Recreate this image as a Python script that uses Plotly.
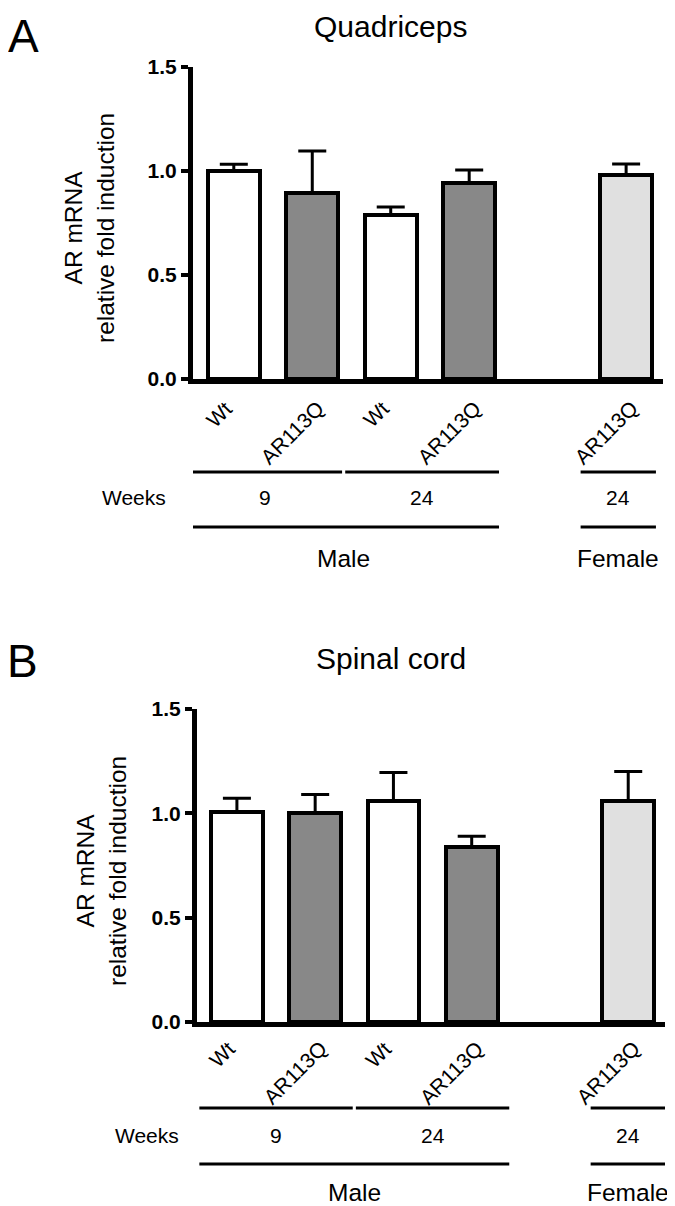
import plotly.graph_objects as go

# ---------------- data ----------------
genotypes = ["Wt", "AR113Q", "Wt", "AR113Q", "AR113Q"]
bar_pos = [0, 1, 2, 3, 5]
bar_colors = ["#ffffff", "#888888", "#ffffff", "#888888", "#e0e0e0"]

quad_mean = [1.00, 0.894, 0.788, 0.942, 0.981]
quad_sem = [0.032, 0.202, 0.039, 0.063, 0.053]

spinal_mean = [1.005, 1.0, 1.06, 0.837, 1.06]
spinal_sem = [0.067, 0.09, 0.136, 0.053, 0.14]

# groups refer to bar indices
week_groups = [("9", [0, 1]), ("24", [2, 3]), ("24", [4])]
sex_groups = [("Male", [0, 1, 2, 3]), ("Female", [4])]

panel_titles = ["Quadriceps", "Spinal cord"]
panel_letters = ["A", "B"]
y_ticks = [0.0, 0.5, 1.0, 1.5]

# ---------------- layout helpers ----------------
WIN_W, WIN_H = 675, 1206
OFF = 8                      # default page margin of the html body
W, H = WIN_W - OFF, WIN_H - OFF
FONT = "Liberation Sans, Arial, Helvetica, sans-serif"


def X(px):
    """window pixel -> paper x"""
    return (px - OFF) / W


def Y(py):
    """window pixel -> paper y"""
    return 1 - (py - OFF) / H


panels = [
    dict(mean=quad_mean, sem=quad_sem, xd=(193, 663), yd=(67, 379), xr=(-0.52, 5.47),
         title_xy=(390, 26), letter_top=8, letter_x=23, ytitle_xy=(90, 228),
         rows=(472, 498, 527, 559), weeks_right=168, lab_top=15, bshift=0.0),
    dict(mean=spinal_mean, sem=spinal_sem, xd=(197, 665), yd=(709, 1022), xr=(-0.51, 5.47),
         title_xy=(391, 658), letter_top=633, letter_x=22, ytitle_xy=(101, 871),
         rows=(1108, 1135, 1164, 1192), weeks_right=181, lab_top=12, bshift=0.1),
]

label_shift = {"Wt": 5, "AR113Q": 19}

fig = go.Figure()
annotations = []
shapes = []

for i, p in enumerate(panels):
    sfx = "" if i == 0 else str(i + 1)
    xa, ya = "x" + sfx, "y" + sfx
    fig.add_trace(go.Bar(
        x=bar_pos, y=p["mean"], width=0.66,
        marker=dict(color=bar_colors, line=dict(color="black", width=4)),
        error_y=dict(type="data", array=p["sem"], arrayminus=[0] * len(p["sem"]),
                     symmetric=False, color="black", thickness=3, width=14),
        xaxis=xa, yaxis=ya, showlegend=False, hoverinfo="skip",
    ))
    fig.update_layout(**{
        "xaxis" + sfx: dict(domain=[X(p["xd"][0]), X(p["xd"][1])], range=list(p["xr"]),
                            anchor=ya, showline=True, linecolor="black", linewidth=5,
                            showticklabels=False, ticks="", showgrid=False, zeroline=False),
        "yaxis" + sfx: dict(domain=[Y(p["yd"][1]), Y(p["yd"][0])], range=[0, 1.5],
                            anchor=xa, showline=True, linecolor="black", linewidth=5,
                            tickvals=y_ticks, ticktext=[f"{v:.1f}" for v in y_ticks],
                            ticks="outside", ticklen=7, tickwidth=4, tickcolor="black",
                            tickfont=dict(family=FONT, size=21, color="black", weight="bold"),
                            showgrid=False, zeroline=False),
    })

    # rotated category labels
    for g, xp in zip(genotypes, bar_pos):
        annotations.append(dict(
            x=xp, xref=xa, y=Y(p["yd"][1] + p["lab_top"]), yref="paper",
            text=g, textangle=-45, showarrow=False, xanchor="right", yanchor="top",
            xshift=label_shift[g], font=dict(family=FONT, size=21, color="black"),
        ))

    r1, rw, r2, rs = p["rows"]
    # weeks brackets
    for lab, idx in week_groups:
        xs = [bar_pos[k] for k in idx]
        x0 = min(xs) - 0.58 + p["bshift"]
        x1 = max(xs) + 0.38 + p["bshift"]
        shapes.append(dict(type="line", xref=xa, yref="paper", x0=x0, x1=x1,
                           y0=Y(r1), y1=Y(r1), line=dict(color="black", width=3)))
        annotations.append(dict(x=(x0 + x1) / 2, xref=xa, y=Y(rw), yref="paper", text=lab,
                                showarrow=False, xanchor="center", yanchor="middle",
                                font=dict(family=FONT, size=21, color="black")))
    # sex brackets
    for lab, idx in sex_groups:
        xs = [bar_pos[k] for k in idx]
        x0 = min(xs) - 0.58 + p["bshift"]
        x1 = max(xs) + 0.38 + p["bshift"]
        shapes.append(dict(type="line", xref=xa, yref="paper", x0=x0, x1=x1,
                           y0=Y(r2), y1=Y(r2), line=dict(color="black", width=3)))
        annotations.append(dict(x=(x0 + x1) / 2, xref=xa, y=Y(rs), yref="paper", text=lab,
                                showarrow=False, xanchor="center", yanchor="middle",
                                font=dict(family=FONT, size=24.5, color="black")))
    annotations.append(dict(x=X(p["weeks_right"]), xref="paper", y=Y(rw), yref="paper",
                            text="Weeks", showarrow=False, xanchor="right", yanchor="middle",
                            font=dict(family=FONT, size=21, color="black")))

    # titles, letters, y titles
    tx, ty = p["title_xy"]
    annotations.append(dict(x=X(tx), y=Y(ty), xref="paper", yref="paper",
                            text=panel_titles[i], showarrow=False,
                            xanchor="center", yanchor="middle",
                            font=dict(family=FONT, size=30, color="black")))
    annotations.append(dict(x=X(p["letter_x"]), y=Y(p["letter_top"]), xref="paper",
                            yref="paper", text=panel_letters[i], showarrow=False,
                            xanchor="center", yanchor="top",
                            font=dict(family=FONT, size=46, color="black")))
    yx, yy = p["ytitle_xy"]
    annotations.append(dict(x=X(yx), y=Y(yy), xref="paper", yref="paper",
                            text="AR mRNA<br>relative fold induction", textangle=-90,
                            showarrow=False, xanchor="center", yanchor="middle",
                            font=dict(family=FONT, size=24.5, color="black")))

fig.update_layout(
    width=W, height=H, margin=dict(l=0, r=0, t=0, b=0, autoexpand=False),
    paper_bgcolor="white", plot_bgcolor="white",
    annotations=annotations, shapes=shapes, bargap=0,
)

fig.write_html("out.html", config={"displayModeBar": False})
